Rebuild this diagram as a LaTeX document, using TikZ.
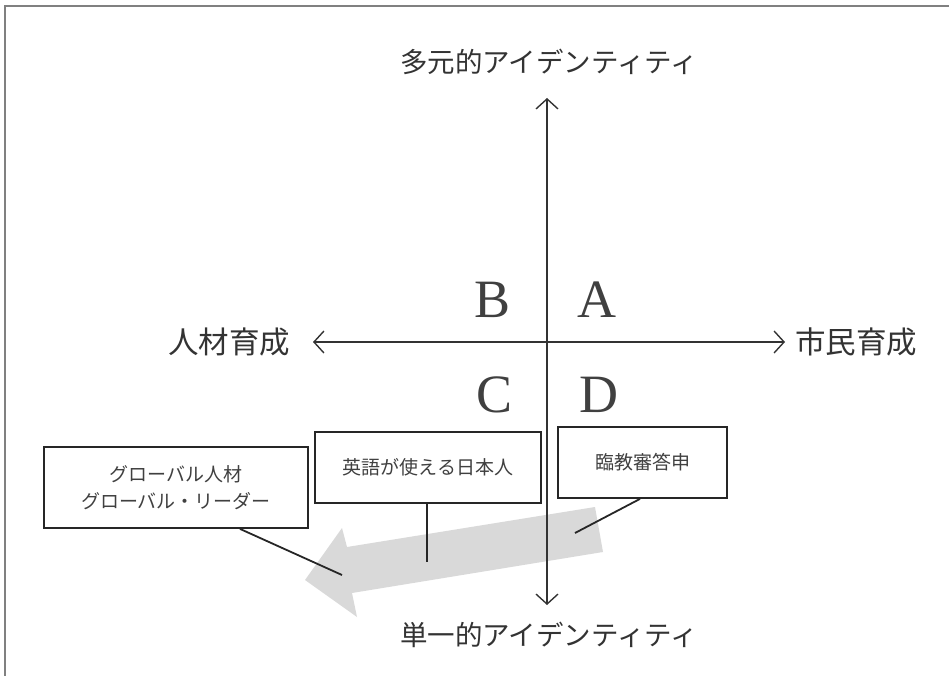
\documentclass[tikz,border=0pt]{standalone}
\usepackage{fontspec}
\newfontfamily\jp{Noto Sans CJK JP}
\newfontfamily\quadfont{Liberation Serif}
\usetikzlibrary{arrows.meta}
\begin{document}
\begin{tikzpicture}[x=1pt,y=-1pt,
  box/.style={draw=black!85, line width=1.8pt, inner sep=0pt, align=center,
    font=\jp\fontsize{19}{27}\selectfont, text=black!75},
  axislabel/.style={font=\jp\fontsize{27.5}{30}\selectfont, text=black!80, inner sep=0pt},
  sidelabel/.style={font=\jp\fontsize{30.5}{32}\selectfont, text=black!80, inner sep=0pt},
  quad/.style={font=\quadfont\fontsize{54}{60}\selectfont, text=black!75, inner sep=0pt},
  axis/.style={line width=1.4pt, draw=black!80,
    {Straight Barb[length=10pt,width=22pt]}-{Straight Barb[length=10pt,width=22pt]}},
  link/.style={line width=1.8pt, draw=black!85},
  frame/.style={draw=black!50, line width=1.3pt},
  flow/.style={fill=black!15, draw=none}]
\useasboundingbox (0,0) rectangle (949,676);
% frame
\draw[frame] (5,676) -- (5,6) -- (949,6);
% gray flow arrow
\path[flow] (595,507) -- (347,547) -- (342,528) -- (305,580) -- (357,617) -- (352,593) -- (603,552) -- cycle;
% axis ends
\coordinate (vtop) at (547,98);
\coordinate (vbot) at (547,605);
\coordinate (hleft) at (313,342);
\coordinate (hright) at (785,342);
\draw[axis] (vtop) -- (vbot);
\draw[axis] (hleft) -- (hright);
% axis labels
\node[axislabel] (ltop) at (549,62) {多元的アイデンティティ};
\node[axislabel] (lbot) at (549,635) {単一的アイデンティティ};
\node[sidelabel] (lleft) at (229,342) {人材育成};
\node[sidelabel] (lright) at (856,342) {市民育成};
% quadrant letters
\node[quad] (qB) at (493,300) {B};
\node[quad] (qA) at (597,300) {A};
\node[quad] (qC) at (495,395) {C};
\node[quad] (qD) at (599,395) {D};
% boxes
\node[box, minimum width=264pt, minimum height=81pt] (b1) at (176,487.5) {グローバル人材\\グローバル・リーダー};
\node[box, minimum width=226pt, minimum height=71pt] (b2) at (428,467.5) {英語が使える日本人};
\node[box, minimum width=169pt, minimum height=71pt] (b3) at (642.5,462.5) {臨教審答申};
% connectors
\coordinate (e1) at (342,575);
\coordinate (e2) at (427,562);
\coordinate (e3) at (575,533);
\draw[link] ([xshift=64pt]b1.south) -- (e1);
\draw[link] ([xshift=-1pt]b2.south) -- (e2);
\draw[link] ([xshift=-2.5pt]b3.south) -- (e3);
\end{tikzpicture}
\end{document}
